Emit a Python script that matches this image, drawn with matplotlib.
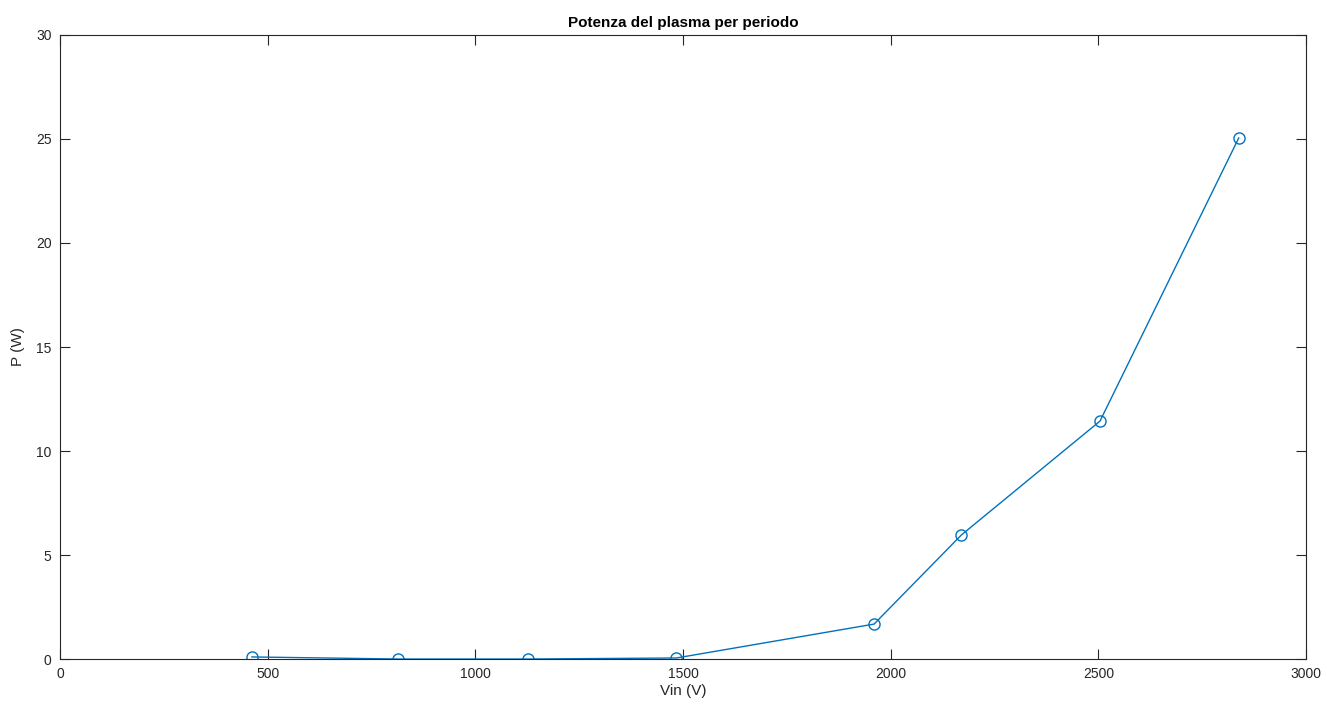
import matplotlib
matplotlib.use("Agg")
import matplotlib.pyplot as plt

plt.rcParams['font.family'] = ['Liberation Sans', 'DejaVu Sans']

vin = [462, 815, 1128, 1484, 1960, 2170, 2504, 2838]
power = [0.10, 0.0, 0.0, 0.05, 1.68, 5.96, 11.44, 25.05]

x_ticks = [0, 500, 1000, 1500, 2000, 2500, 3000]
y_ticks = [0, 5, 10, 15, 20, 25, 30]

fig = plt.figure(figsize=(13.27, 7.11), dpi=100)
ax = fig.add_axes([0.0452, 0.0731, 0.9390, 0.8777])

ax.plot(vin, power, color='#0072BD', linewidth=1.0, marker='o',
        markersize=8, markerfacecolor='none', markeredgewidth=1.0)

ax.set_xlim(0, 3000)
ax.set_ylim(0, 30)
ax.set_xticks(x_ticks)
ax.set_yticks(y_ticks)

for s in ax.spines.values():
    s.set_color('#262626')
    s.set_linewidth(0.8)
ax.tick_params(direction='in', top=True, right=True, length=7, width=0.8,
               colors='#262626', labelsize=10, labelcolor='#262626', pad=6)

ax.set_xlabel('Vin (V)', fontsize=11, color='#262626', labelpad=2)
ax.set_ylabel('P (W)', fontsize=11, color='#262626', labelpad=8)
ax.set_title('Potenza del plasma per periodo', fontsize=11, fontweight='bold',
             color='black', pad=6)

fig.savefig('out.png', dpi=100)
